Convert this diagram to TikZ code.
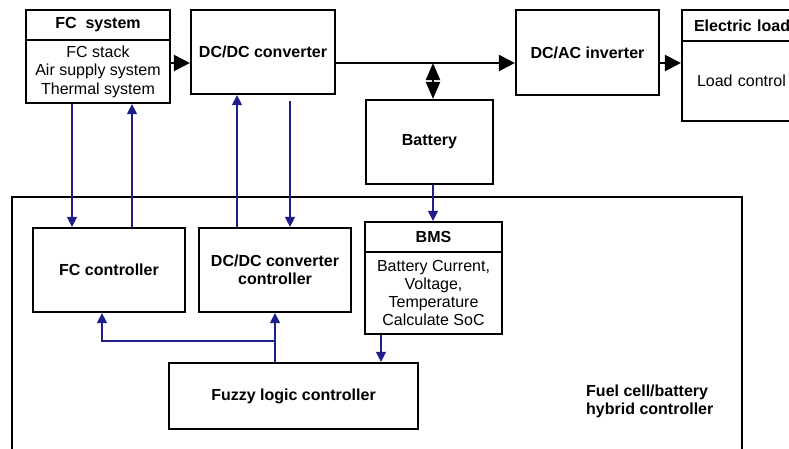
\documentclass[tikz,border=0pt]{standalone}
\usepackage{fontspec}
\setmainfont{Liberation Sans}
\usetikzlibrary{arrows.meta}
\definecolor{sigblue}{RGB}{30,30,140}
\begin{document}
\begin{tikzpicture}[x=1pt, y=-1pt,
    box/.style={draw, line width=2.2pt, inner sep=0pt, align=center, font=\fontsize{16}{18.5}\selectfont},
    hd/.style={box, font=\fontsize{16}{18.5}\selectfont\bfseries},
    pow/.style={line width=2.2pt, -{Triangle[length=16pt,width=16pt]}},
    dbl/.style={line width=2.2pt, {Triangle[length=17pt,width=14pt]}-{Triangle[length=17pt,width=14pt]}},
    sig/.style={sigblue, line width=1.2pt, -{Triangle[length=10pt,width=10pt]}}]
    \clip (0,0) rectangle (789,448);
    \node[hd, minimum width=144pt, minimum height=30pt] (fctitle) at (98,25) {FC~~system};
    \node[box, minimum width=144pt, minimum height=63pt] (fcbody) at (98,71.5) {FC stack\\Air supply system\\Thermal system};
    \node[hd, minimum width=144pt, minimum height=84pt] (dcdc) at (263,52) {DC/DC converter};
    \node[hd, minimum width=143pt, minimum height=85pt] (dcac) at (587.5,52.5) {DC/AC inverter};
    \node[hd, minimum height=31pt, text width=124pt, inner xsep=12pt, align=left] (eltitle) at (756,25.5) {Electric load};
    \node[box, minimum height=80pt, text width=118pt, inner xsep=15pt, align=left] (elbody) at (756,81) {Load control};
    \node[hd, minimum width=127pt, minimum height=84pt] (battery) at (429.5,142) {Battery};
    \node[draw, line width=2.2pt, minimum width=730pt, minimum height=273pt] (hyb) at (377,333.5) {};
    \node[hd, minimum width=152pt, minimum height=84pt] (fcctrl) at (109,270) {FC controller};
    \node[hd, minimum width=152pt, minimum height=84pt] (dcdcctrl) at (275,270) {DC/DC converter\\controller};
    \node[hd, minimum width=137pt, minimum height=30pt] (bmstitle) at (433.5,237) {BMS};
    \node[box, minimum width=137pt, minimum height=82pt, font=\fontsize{16}{18}\selectfont] (bmsbody) at (433.5,293) {Battery Current,\\Voltage,\\Temperature\\Calculate SoC};
    \node[hd, minimum width=249pt, minimum height=66pt] (fuzzy) at (293.5,396) {Fuzzy logic controller};
    \node[font=\fontsize{16}{18}\selectfont\bfseries, align=left, anchor=west, inner sep=0pt] (hyblabel) at (586,401) {Fuel cell/battery\\hybrid controller};
    \coordinate (bus) at (433,63);
    \draw[pow] (fcbody.east |- bus) -- (dcdc.west |- bus);
    \draw[pow] (dcdc.east |- bus) -- (dcac.west |- bus);
    \draw[pow] (dcac.east |- bus) -- (elbody.west |- bus);
    \draw[dbl] (bus) -- (battery.north -| bus);
    \draw[sig] ([xshift=-26pt]fcbody.south) -- ([xshift=-26pt]fcbody.south |- fcctrl.north);
    \draw[sig] ([xshift=23pt]fcctrl.north) -- ([xshift=23pt]fcctrl.north |- fcbody.south);
    \draw[sig] ([xshift=-38pt]dcdcctrl.north) -- ([xshift=-38pt]dcdcctrl.north |- dcdc.south);
    \draw[sig] ([xshift=27pt, yshift=-6pt]dcdc.south) -- ([xshift=27pt]dcdc.south |- dcdcctrl.north);
    \draw[sig] (battery.south -| bus) -- (bmstitle.north -| bus);
    \draw[sig] ([xshift=-52.5pt]bmsbody.south) -- ([xshift=-52.5pt]bmsbody.south |- fuzzy.north);
    \draw[sig] (dcdcctrl.south |- fuzzy.north) -- (dcdcctrl.south);
    \draw[sig] (dcdcctrl.south |- 0,341) -- ([xshift=-7pt]fcctrl.south |- 0,341) -- ([xshift=-7pt]fcctrl.south);
\end{tikzpicture}
\end{document}
